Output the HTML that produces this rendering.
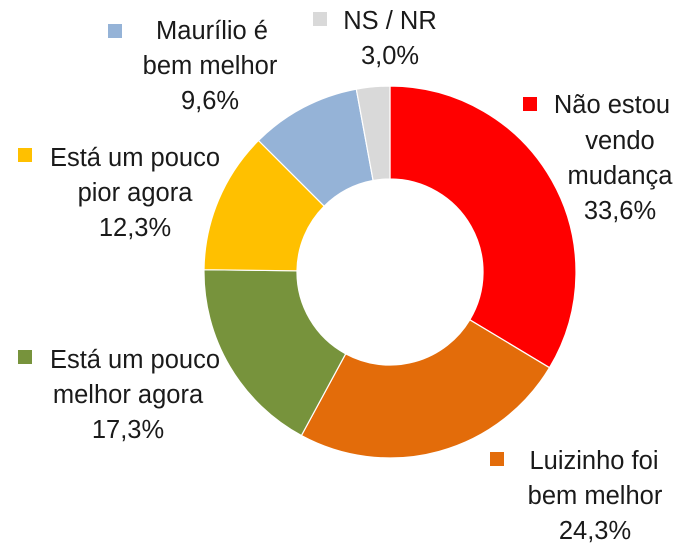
<!DOCTYPE html>
<html><head><meta charset="utf-8"><style>
html,body{margin:0;padding:0;background:#fff;}
svg{display:block;}
text{font-family:"Liberation Sans",sans-serif;font-size:25.5px;fill:#1a1a1a;}
</style></head><body>
<svg width="690" height="547" viewBox="0 0 690 547">
<g stroke="#fff" stroke-width="1.2">
<path d="M390,86 A186,186 0 0 1 549.5,367.7 L469.8,319.8 A93,93 0 0 0 390,179 Z" fill="#ff0000"/>
<path d="M549.5,367.7 A186,186 0 0 1 301.4,435.5 L345.7,353.8 A93,93 0 0 0 469.8,319.8 Z" fill="#e36c0a"/>
<path d="M301.4,435.5 A186,186 0 0 1 204,269.7 L297,270.8 A93,93 0 0 0 345.7,353.8 Z" fill="#77933c"/>
<path d="M204,269.7 A186,186 0 0 1 258.5,140.5 L324.2,206.2 A93,93 0 0 0 297,270.8 Z" fill="#ffc000"/>
<path d="M258.5,140.5 A186,186 0 0 1 356.3,89.1 L373.1,180.5 A93,93 0 0 0 324.2,206.2 Z" fill="#95b3d7"/>
<path d="M356.3,89.1 A186,186 0 0 1 390,86 L390,179 A93,93 0 0 0 373.1,180.5 Z" fill="#d9d9d9"/>
</g>
<rect x="108" y="24" width="14" height="14" fill="#95b3d7"/>
<text x="212" y="39" text-anchor="middle">Maurílio é</text>
<text x="210" y="74" text-anchor="middle">bem melhor</text>
<text x="210" y="109" text-anchor="middle">9,6%</text>
<rect x="313" y="12" width="14" height="14" fill="#d9d9d9"/>
<text x="390" y="29" text-anchor="middle">NS / NR</text>
<text x="390" y="64" text-anchor="middle">3,0%</text>
<rect x="523" y="97" width="14" height="14" fill="#ff0000"/>
<text x="612" y="113" text-anchor="middle">Não estou</text>
<text x="620" y="149" text-anchor="middle">vendo</text>
<text x="620" y="184" text-anchor="middle">mudança</text>
<text x="620" y="219" text-anchor="middle">33,6%</text>
<rect x="18" y="148" width="14" height="14" fill="#ffc000"/>
<text x="135" y="166" text-anchor="middle">Está um pouco</text>
<text x="135" y="201" text-anchor="middle">pior agora</text>
<text x="135" y="236" text-anchor="middle">12,3%</text>
<rect x="18" y="350" width="14" height="14" fill="#77933c"/>
<text x="135" y="368" text-anchor="middle">Está um pouco</text>
<text x="128" y="403" text-anchor="middle">melhor agora</text>
<text x="128" y="438" text-anchor="middle">17,3%</text>
<rect x="490" y="452" width="14" height="14" fill="#e36c0a"/>
<text x="594" y="469" text-anchor="middle">Luizinho foi</text>
<text x="595" y="504" text-anchor="middle">bem melhor</text>
<text x="595" y="539" text-anchor="middle">24,3%</text>
</svg>
</body></html>
